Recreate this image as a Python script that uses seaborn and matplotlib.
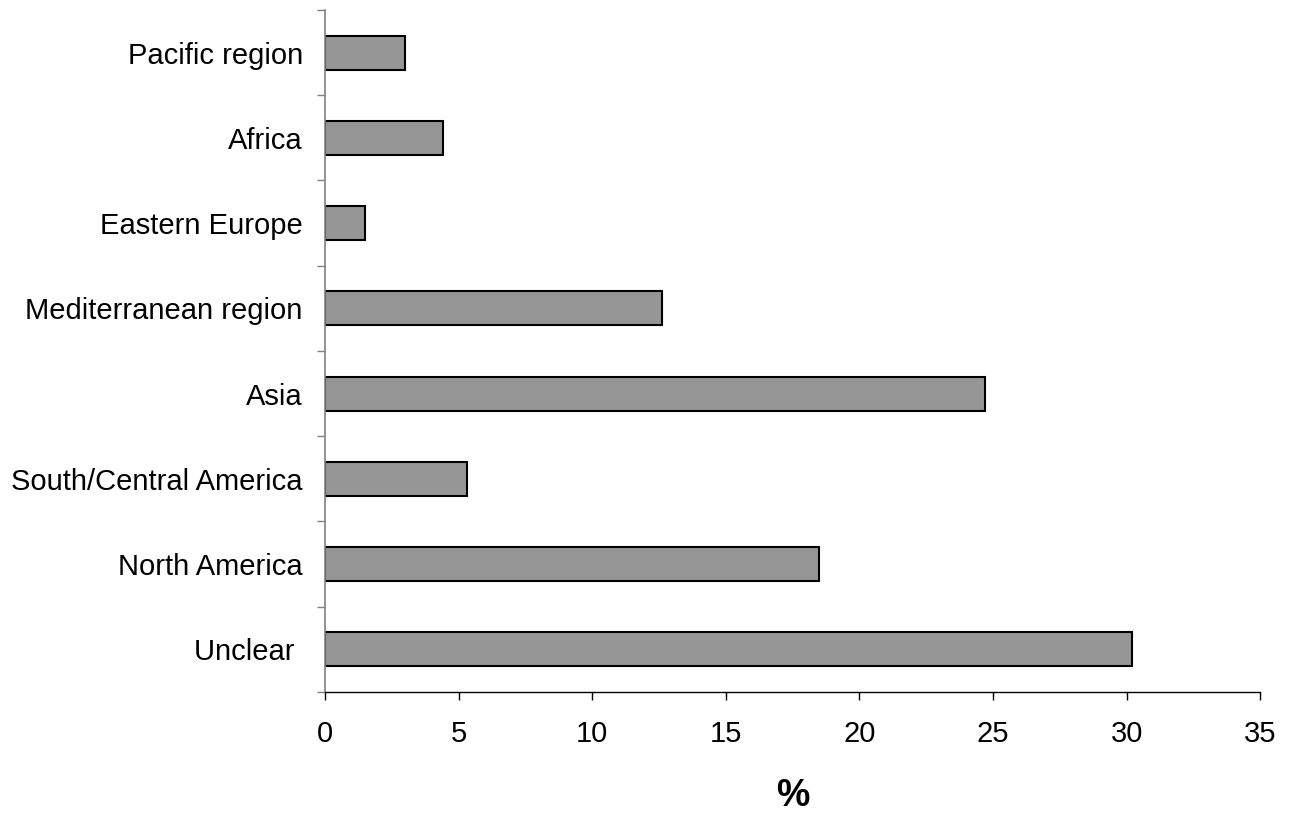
import numpy as np
import pandas as pd
import matplotlib
matplotlib.use("Agg")
import matplotlib.pyplot as plt
import seaborn as sns

# Data (top to bottom)
regions = ["Pacific region", "Africa", "Eastern Europe", "Mediterranean region",
           "Asia", "South/Central America", "North America", "Unclear "]
percent = [3.0, 4.4, 1.5, 12.6, 24.7, 5.3, 18.5, 30.2]
x_ticks = [0, 5, 10, 15, 20, 25, 30, 35]

df = pd.DataFrame({"region": regions, "percent": percent})

sns.set_style("white")
plt.rcParams["font.family"] = ["Liberation Sans", "DejaVu Sans"]
plt.rcParams["text.color"] = "black"
plt.rcParams["xtick.color"] = "black"
plt.rcParams["ytick.color"] = "black"
plt.rcParams["axes.labelcolor"] = "black"

fig = plt.figure(figsize=(12.93, 8.17), dpi=100)
ax = fig.add_axes([0.2514, 0.153, 0.7232, 0.8348])

sns.barplot(data=df, x="percent", y="region", orient="h", order=regions,
            color="#969696", saturation=1, width=0.4,
            edgecolor="black", linewidth=1.5, ax=ax)

ax.set_xlim(0, 35)
ax.set_ylim(len(regions) - 0.5, -0.5)
ax.set_xticks(x_ticks)
ax.set_xticklabels([str(t) for t in x_ticks])

# category ticks sit between bars, like the original
ax.set_yticks(np.arange(-0.5, len(regions) + 0.5, 1), minor=True)
ax.tick_params(axis="y", which="major", length=0, pad=16, labelsize=21,
               labelcolor="black")
ax.tick_params(axis="y", which="minor", length=6, width=1, color="#808080",
               direction="out", left=True)
ax.tick_params(axis="x", which="major", length=6, width=1, color="black",
               direction="out", bottom=True, pad=14, labelsize=21,
               labelcolor="black")

ax.set_ylabel("")
ax.set_xlabel("%", fontsize=27, fontweight="bold", labelpad=22, color="black")

for side in ["top", "right"]:
    ax.spines[side].set_visible(False)
ax.spines["left"].set_color("#808080")
ax.spines["left"].set_linewidth(1.2)
ax.spines["bottom"].set_color("black")
ax.spines["bottom"].set_linewidth(1)

fig.savefig("out.png", dpi=100, facecolor="white")
